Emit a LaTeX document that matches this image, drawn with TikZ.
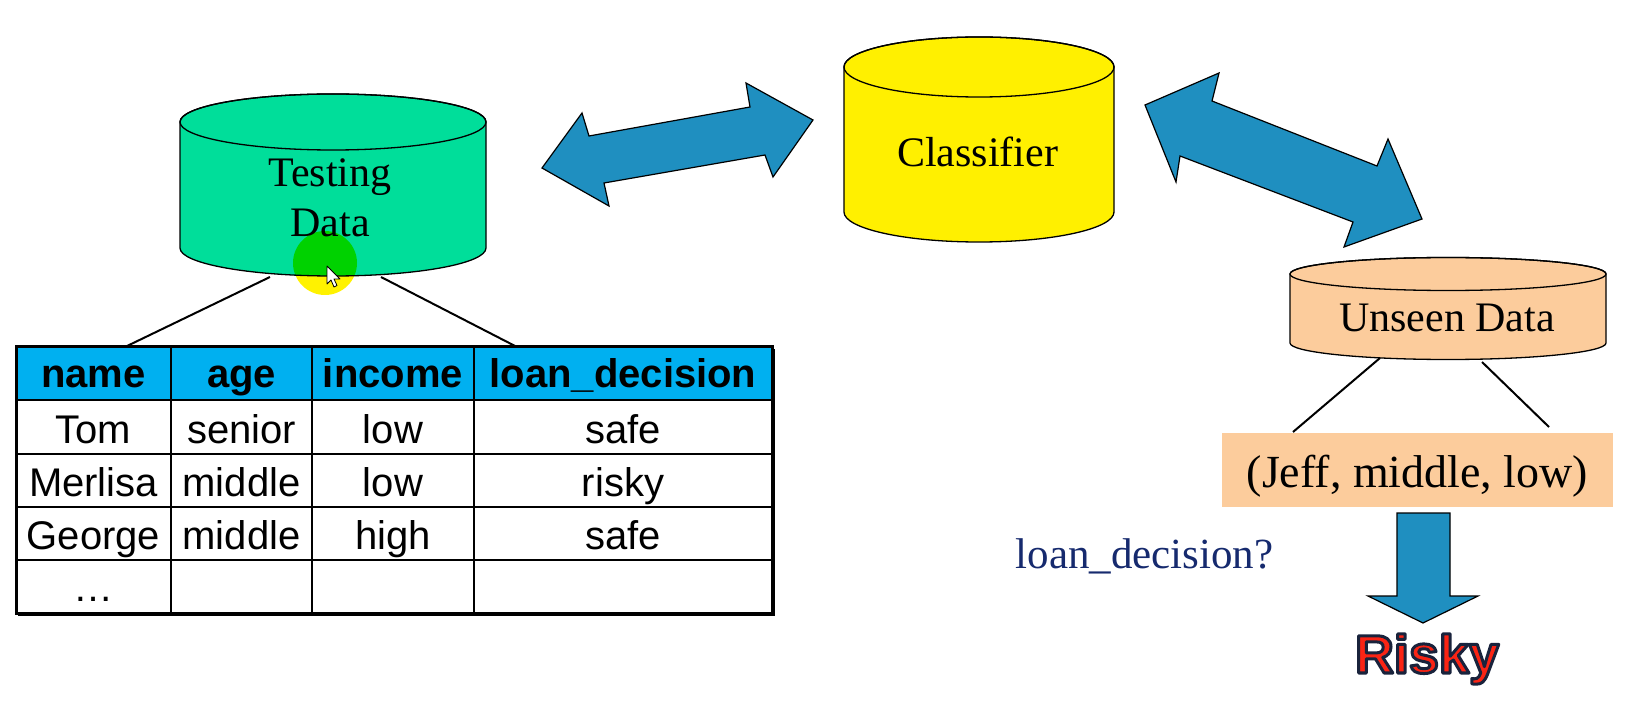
\documentclass[tikz,border=0pt]{standalone}
\usepackage{fontspec}
\setmainfont{Liberation Serif}
\newfontfamily\arialf{Liberation Sans}
\definecolor{mint}{RGB}{0,222,154}
\definecolor{clsyellow}{RGB}{255,240,0}
\definecolor{peach}{RGB}{252,204,156}
\definecolor{arrowblue}{RGB}{31,143,192}
\definecolor{headblue}{RGB}{0,176,240}
\definecolor{navytext}{RGB}{22,42,110}
\definecolor{riskyred}{RGB}{250,36,20}
\definecolor{cursoryellow}{RGB}{255,242,0}
\newcommand\dbcyl[6]{%
  \filldraw[cylline, fill=#6] (#1-#4,#2) -- (#1-#4,#3)
     arc[start angle=180, end angle=0, x radius=#4, y radius=#5]
     -- (#1+#4,#2)
     arc[start angle=0, end angle=-180, x radius=#4, y radius=#5] -- cycle;
  \draw[cylline] (#1,#2) ellipse[x radius=#4, y radius=#5];}
\newcommand\outlinedtext[1]{\special{pdf:literal direct 0.1 0.137 0.235 RG 3 w 1 j 2 Tr}#1\special{pdf:literal direct 0 Tr}}
\begin{document}
\begin{tikzpicture}[x=1pt, y=-1pt,
  cylline/.style={draw=black, line width=1.3pt},
  serif/.style={font=\fontsize{42}{50}\selectfont, inner sep=0pt, anchor=base, text=black},
  blockarrow/.style={fill=arrowblue, draw=black, line width=1.2pt, line join=miter},
  conn/.style={draw=black, line width=2pt},
  cell/.style={font=\arialf\fontsize{40}{46}\selectfont, inner sep=0pt, anchor=base},
  head/.style={font=\arialf\bfseries\fontsize{40}{46}\selectfont, inner sep=0pt, anchor=base}]
\useasboundingbox (0,0) rectangle (1634,703);
\fill[white] (0,0) rectangle (1634,703);

% ---- cylinders
\dbcyl{333}{122}{248}{153}{28}{mint}
\dbcyl{979}{67}{212}{135}{30}{clsyellow}
\dbcyl{1448}{274}{343}{158}{16.5}{peach}

\node[serif, align=center] (testing) at (330,237) {Testing\\Data};
\node[serif] (classifier) at (977.5,167) {Classifier};
\node[serif] (unseen) at (1447,332) {Unseen Data};

% ---- block arrows
\draw[blockarrow] (542,168) -- (582,113) -- (589,136) -- (750,107) -- (746,83) -- (813,120)
  -- (773,177) -- (765,155) -- (604,183) -- (609,206) -- cycle;
\draw[blockarrow] (1145,105) -- (1219,73) -- (1212,101) -- (1377,166) -- (1388,139) -- (1422,219)
  -- (1344,247) -- (1353,222) -- (1180,156) -- (1176,182) -- cycle;
\draw[blockarrow] (1397,513) -- (1450,513) -- (1450,596) -- (1478,596) -- (1423,623)
  -- (1368,596) -- (1397,596) -- cycle;

% ---- table
\node[inner sep=0pt, minimum width=756pt, minimum height=266pt, anchor=north west] (tbl) at (16,347) {};
\fill[headblue] (16,347) rectangle (772,400);
\foreach \yy in {400,454,507,560} \draw[line width=2pt] (16,\yy) -- (772,\yy);
\foreach \xx in {171,312,474} \draw[line width=2pt] (\xx,347) -- (\xx,613);
\draw[line width=3pt] (16,347) rectangle (772,613);
\draw[line width=2.5pt] (18,614.5) -- (773.5,614.5) -- (773.5,349);

\node[head] (h1) at (93.5,388) {name};
\node[head] (h2) at (241.5,388) {age};
\node[head] (h3) at (393,388) {income};
\node[head] (h4) at (623,388) {loan\_decision};

\node[cell] (r1a) at (93.5,443) {Tom};
\node[cell] (r1b) at (241.5,443) {senior};
\node[cell] (r1c) at (393,443) {low};
\node[cell] (r1d) at (623,443) {safe};
\node[cell] (r2a) at (93.5,496) {Merlisa};
\node[cell] (r2b) at (241.5,496) {middle};
\node[cell] (r2c) at (393,496) {low};
\node[cell] (r2d) at (623,496) {risky};
\node[cell] (r3a) at (93.5,549) {George};
\node[cell] (r3b) at (241.5,549) {middle};
\node[cell] (r3c) at (393,549) {high};
\node[cell] (r3d) at (623,549) {safe};
\node[cell] (r4a) at (93.5,601) {…};

% ---- connectors
\coordinate (tdL) at (270,277);
\coordinate (tdR) at (381,277);
\coordinate (tblL) at (125,347);
\coordinate (tblR) at (517,347);
\draw[conn] (tdL) -- (tblL);
\draw[conn] (tdR) -- (tblR);

\node[fill=peach, inner sep=0pt, minimum width=391pt, minimum height=74pt] (jeff) at (1417.5,470) {};
\node[serif, font=\fontsize{46}{52}\selectfont] (jefftext) at (1417.5,487) {(Jeff, middle, low)};
\coordinate (unL) at (1380,358);
\coordinate (unR) at (1482,362);
\coordinate (jfL) at (1293,432);
\coordinate (jfR) at (1549,427);
\draw[conn] (unL) -- (jfL);
\draw[conn] (unR) -- (jfR);

\node[serif, text=navytext, font=\fontsize{43}{50}\selectfont] (question) at (1144.5,568) {loan\_decision?};

% ---- cursor highlight
\fill[cursoryellow, blend mode=multiply] (325,263) circle[radius=32];
\draw[draw=black, fill=white, line width=0.8pt, line join=round] (327,266) -- (327,284) -- (331,280) -- (334,287)
  -- (337,285.5) -- (334,279) -- (340,279) -- cycle;

% ---- result
\node[inner sep=0pt, anchor=base, text=riskyred, font=\arialf\bfseries\fontsize{54}{60}\selectfont] (risky) at (1427,673)
  {\outlinedtext{Risky}};
\end{tikzpicture}
\end{document}
